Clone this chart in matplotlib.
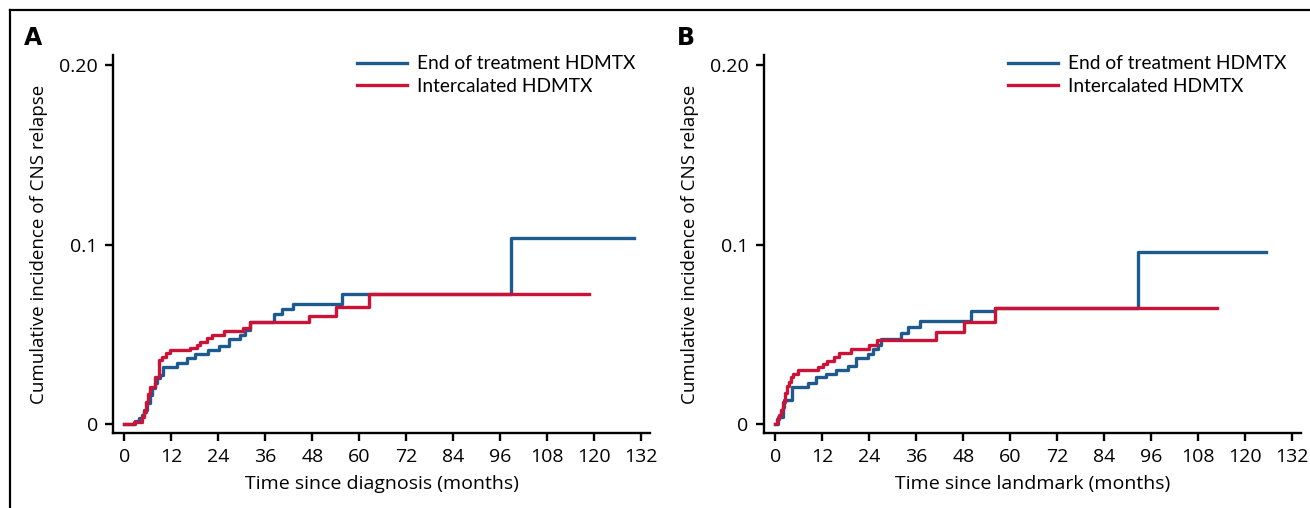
import matplotlib
matplotlib.use("Agg")
import matplotlib.pyplot as plt
from matplotlib.lines import Line2D

# Panel A: time since diagnosis (months) and cumulative incidence
a_eot_t = [0, 2.8, 3.7, 4.5, 4.9, 5.8, 6.5, 7.1, 7.7, 8.3, 9.0, 9.9, 13.4, 16.0, 18.1,
           21.3, 24.1, 26.6, 29.6, 30.9, 32.2, 38.1, 40.3, 43.1, 55.7, 98.8, 130.3]
a_eot_v = [0, 0.0017, 0.0032, 0.005, 0.0078, 0.0115, 0.0162, 0.0199, 0.0227, 0.0255,
           0.0273, 0.0319, 0.0338, 0.0369, 0.0388, 0.0412, 0.0435, 0.0472, 0.0496,
           0.0524, 0.057, 0.0611, 0.0639, 0.0668, 0.0722, 0.1034, 0.1034]
a_int_t = [0, 2.4, 4.5, 4.9, 5.4, 6.0, 6.6, 7.7, 8.8, 9.6, 10.5, 11.7, 16.7, 18.6, 19.2,
           21.1, 22.4, 25.4, 30.3, 32.0, 47.1, 54.1, 62.4, 118.8]
a_int_v = [0, 0.0009, 0.0041, 0.0069, 0.0124, 0.0165, 0.0208, 0.0264, 0.0357, 0.0375,
           0.0397, 0.0412, 0.0421, 0.044, 0.0459, 0.0477, 0.0496, 0.0518, 0.0537,
           0.0566, 0.0603, 0.0654, 0.0722, 0.0722]

# Panel B: time since landmark (months)
b_eot_t = [0, 0.6, 1.9, 2.3, 4.25, 8.3, 10.4, 12.9, 15.5, 18.5, 20.6, 23.6, 24.9, 26.1,
           27.0, 32.1, 33.8, 36.9, 50.0, 56.2, 92.7, 125.3]
b_eot_v = [0, 0.0041, 0.0097, 0.0134, 0.0208, 0.0227, 0.0264, 0.0279, 0.0301, 0.0323,
           0.0366, 0.039, 0.0416, 0.044, 0.0473, 0.0505, 0.0539, 0.0576, 0.063, 0.0644,
           0.0958, 0.0958]
b_int_t = [0, 0.34, 0.85, 1.44, 1.87, 2.55, 2.89, 3.4, 4.0, 4.6, 5.7, 10.8, 12.1, 13.1,
           15.1, 16.3, 19.3, 24.0, 25.9, 41.0, 48.1, 56.2, 112.9]
b_int_v = [0, 0.0026, 0.005, 0.0078, 0.0124, 0.0171, 0.0212, 0.0236, 0.026, 0.0279,
           0.0301, 0.0316, 0.0334, 0.0353, 0.0371, 0.0394, 0.0416, 0.044, 0.0468,
           0.0514, 0.0566, 0.0644, 0.0648]

x_ticks = list(range(0, 133, 12))
y_ticks = [0, 0.1, 0.2]
y_tick_labels = ["0", "0.1", "0.20"]
series_labels = ["End of treatment HDMTX", "Intercalated HDMTX"]
blue = "#1d5a8e"
red = "#cc1236"

plt.rcParams["font.family"] = ["Open Sans", "DejaVu Sans"]

fig = plt.figure(figsize=(13.1, 5.08), dpi=100)


def draw_panel(left, letter, xlabel, eot_t, eot_v, int_t, int_v, letter_x):
    ax = fig.add_axes([left, 0.1476, 0.41, 0.744])
    ax.step(eot_t, eot_v, where="post", color=blue, lw=2.4, label=series_labels[0])
    ax.step(int_t, int_v, where="post", color=red, lw=2.4, label=series_labels[1])
    ax.set_xlim(-2.9, 134.3)
    ax.set_ylim(-0.005, 0.2056)
    ax.set_xticks(x_ticks)
    ax.set_yticks(y_ticks)
    ax.set_yticklabels(y_tick_labels)
    for s in ["top", "right"]:
        ax.spines[s].set_visible(False)
    for s in ["left", "bottom"]:
        ax.spines[s].set_linewidth(1.7)
    ax.tick_params(width=1.7, length=6, labelsize=14, pad=5)
    ax.set_xlabel(xlabel, fontsize=14, labelpad=6)
    ax.set_ylabel("Cumulative incidence of CNS relapse", fontsize=13.5, labelpad=8)
    ax.legend(loc="upper left", bbox_to_anchor=(0.422, 1.045), frameon=False,
              handlelength=2.6, handletextpad=0.55, labelspacing=0.28,
              prop={"family": "Lato", "size": 13.8})
    fig.text(letter_x, 0.925, letter, fontsize=17, fontweight="bold",
             family="DejaVu Sans", va="center")
    return ax


draw_panel(0.0863, "A", "Time since diagnosis (months)",
           a_eot_t, a_eot_v, a_int_t, a_int_v, 0.018)
draw_panel(0.5832, "B", "Time since landmark (months)",
           b_eot_t, b_eot_v, b_int_t, b_int_v, 0.517)

# outer frame (top and left edges)
fig.add_artist(Line2D([0.0076, 1.0], [0.981, 0.981], transform=fig.transFigure,
                      color="black", lw=1.6))
fig.add_artist(Line2D([0.0076, 0.0076], [0.0, 0.981], transform=fig.transFigure,
                      color="black", lw=1.6))

fig.savefig("out.png", dpi=100)
